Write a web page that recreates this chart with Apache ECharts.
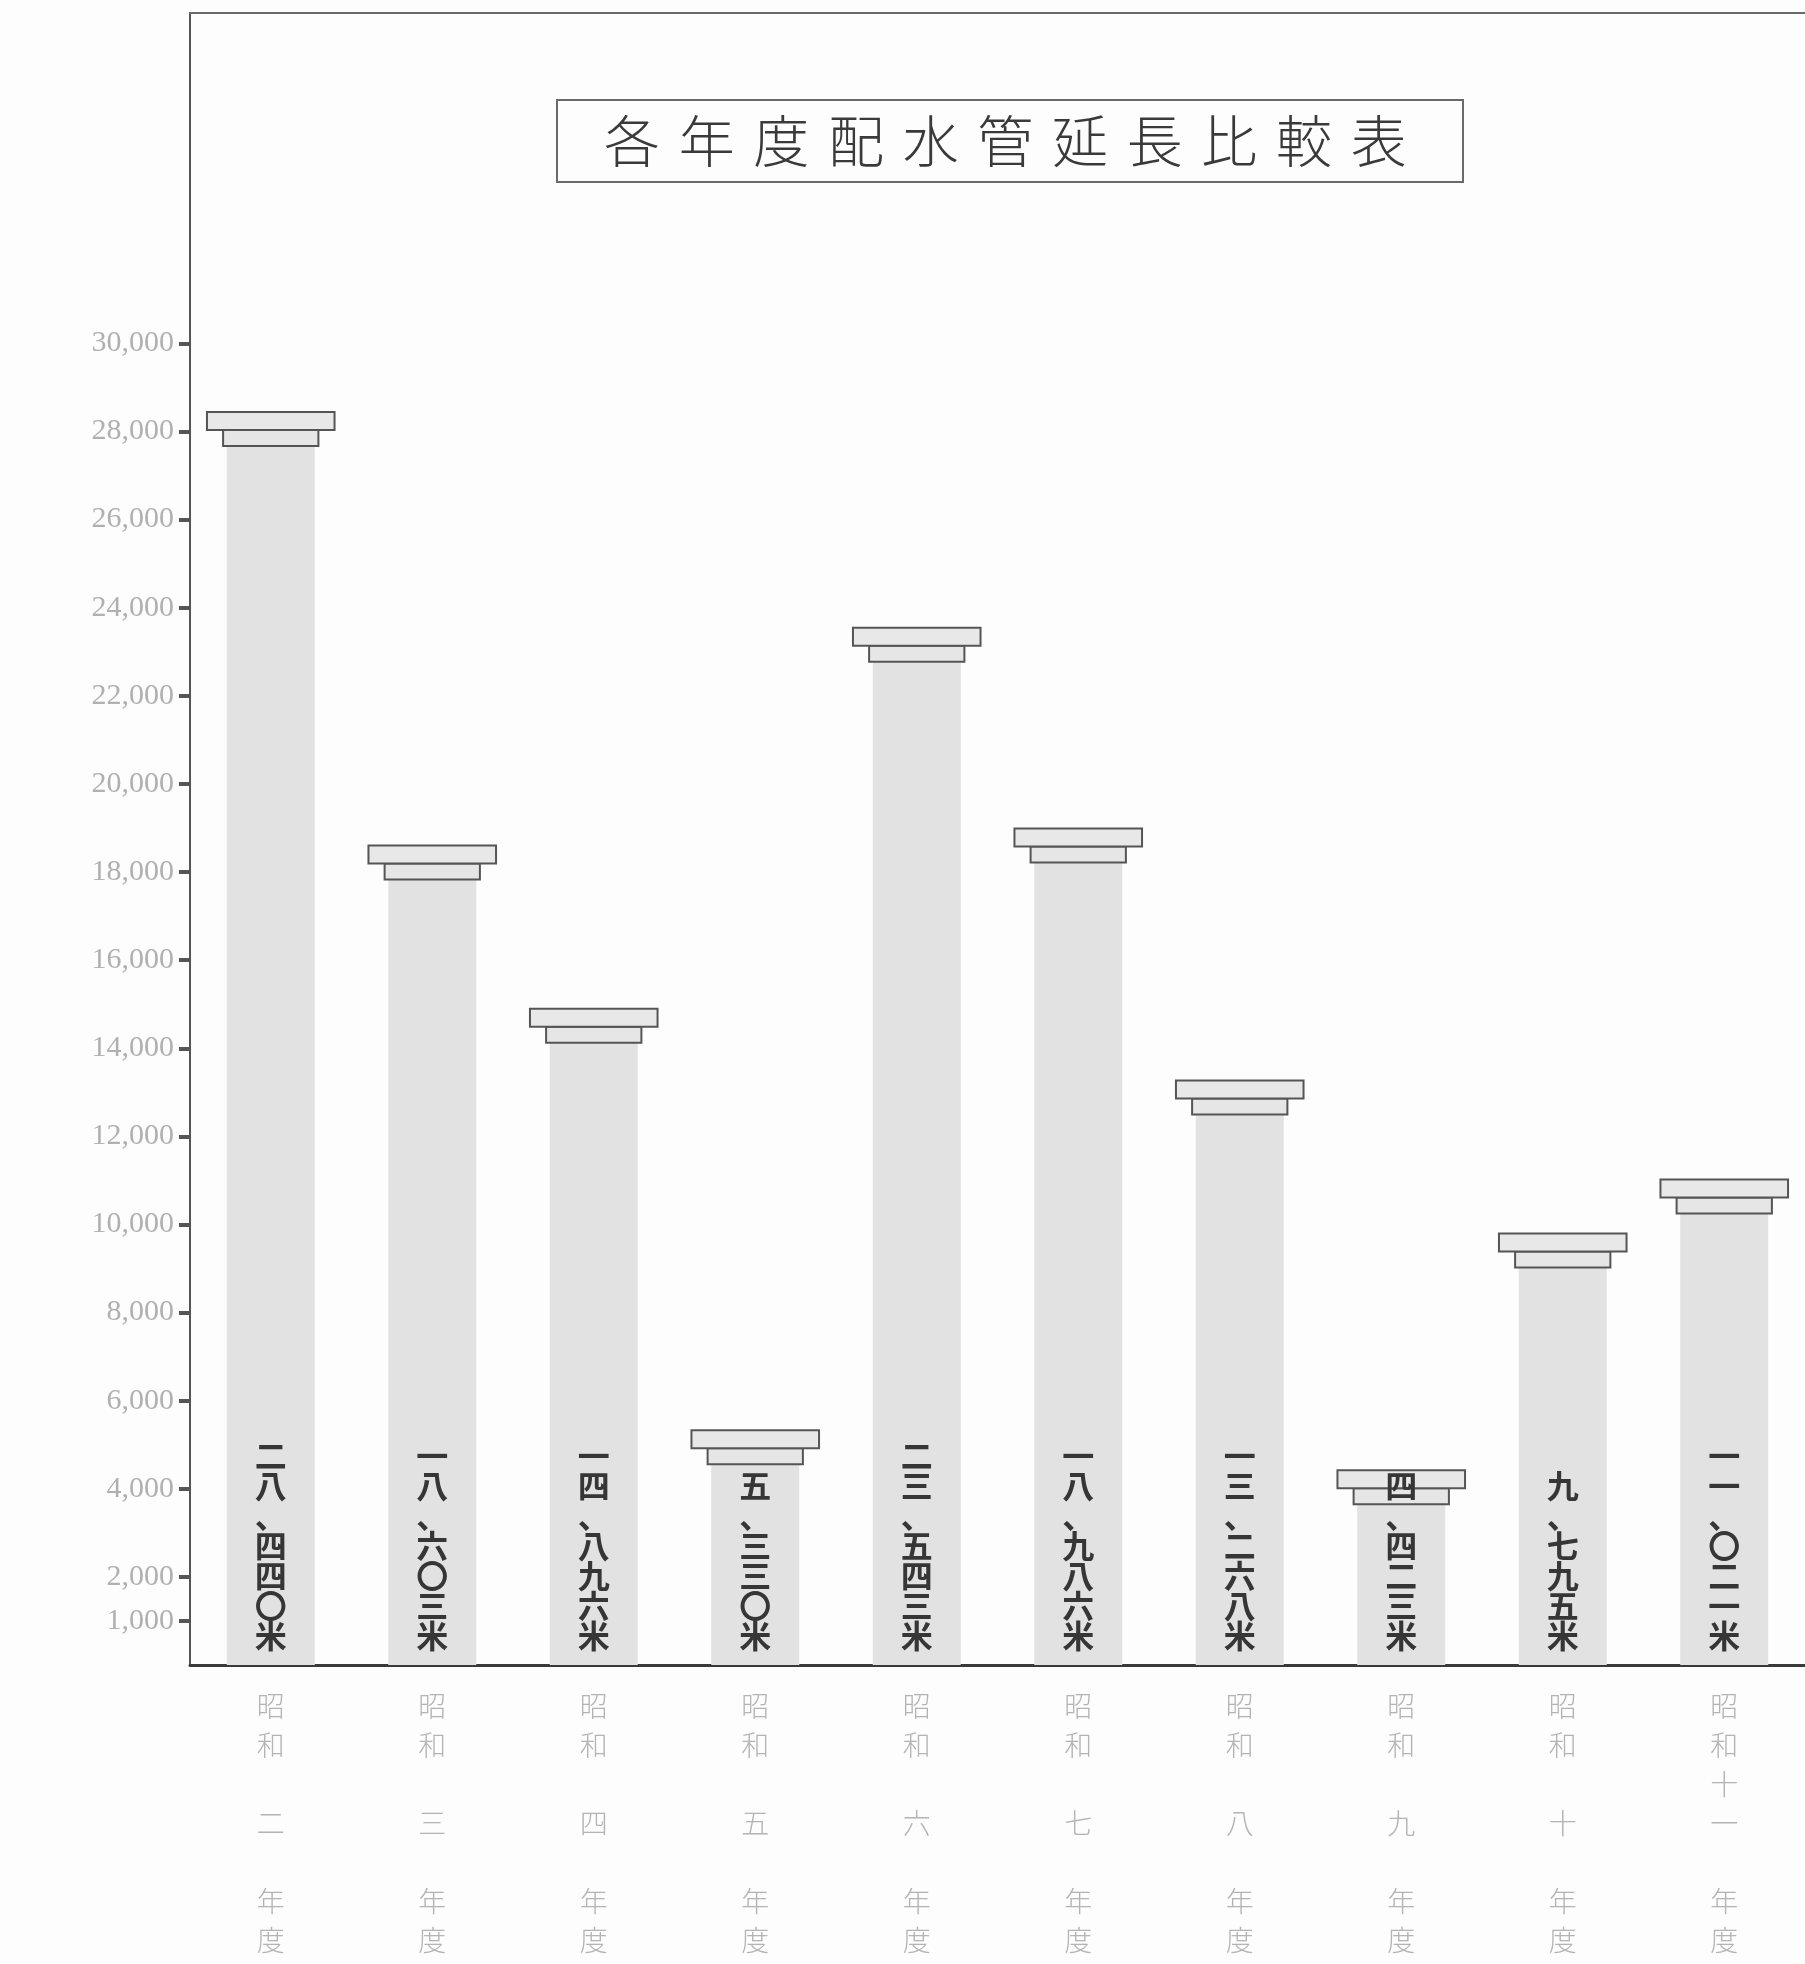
<!DOCTYPE html>
<html><head><meta charset="utf-8">
<script src="https://cdn.jsdelivr.net/npm/echarts@6/dist/echarts.min.js"></script>
<style>html,body{margin:0;padding:0;background:#fdfdfd}#c{width:1805px;height:1964px}</style>
</head><body><div id="c"></div>
<script>
const titleText = '各年度配水管延長比較表';
const categories = ['昭和二年度','昭和三年度','昭和四年度','昭和五年度','昭和六年度','昭和七年度','昭和八年度','昭和九年度','昭和十年度','昭和十一年度'];
const lengths = [28440, 18603, 14896, 5330, 23543, 18986, 13268, 4423, 9795, 11021];
const valueLabels = ['二八、四四〇米','一八、六〇三米','一四、八九六米','五、三三〇米','二三、五四三米','一八、九八六米','一三、二六八米','四、四二三米','九、七九五米','一一、〇二一米'];
const yTicks = [1000, 2000, 4000, 6000, 8000, 10000, 12000, 14000, 16000, 18000, 20000, 22000, 24000, 26000, 28000, 30000];

const chart = echarts.init(document.getElementById('c'), null, {renderer: 'canvas'});

function catLabel(v) {
  const num = v.slice(2, v.length - 2);
  const blank = '\u3000';
  const lines = ['昭', '和'];
  if (num.length === 2) { lines.push(num[0], num[1]); } else { lines.push(blank, num); }
  lines.push(blank, '年', '度');
  return lines.join('\n');
}

chart.setOption({
  backgroundColor: '#fdfdfd',
  animation: false,
  title: {
    text: titleText.split('').join('\u2004'),
    left: 557, top: 100,
    padding: [13, 57, 13, 47],
    borderColor: '#6a6a6a', borderWidth: 2,
    textStyle: {fontFamily: 'Noto Sans CJK JP', fontSize: 56, fontWeight: 300, color: '#3a3a3a'}
  },
  grid: {left: 190, right: -5, top: 13, bottom: 299, containLabel: false},
  xAxis: [{
    type: 'category', data: categories, position: 'bottom',
    axisLine: {lineStyle: {color: '#3a3a3a', width: 3}},
    axisTick: {show: false},
    axisLabel: {
      margin: 22, formatter: catLabel, fontSize: 28, lineHeight: 39,
      fontFamily: 'Noto Sans CJK JP', fontWeight: 300, color: '#b4b4b4', verticalAlign: 'top'
    }
  }, {
    type: 'category', data: categories, position: 'top',
    axisLine: {lineStyle: {color: '#6a6a6a', width: 2}},
    axisTick: {show: false}, axisLabel: {show: false}
  }],
  yAxis: {
    type: 'value', min: 0, max: 37500,
    splitLine: {show: false},
    axisLine: {show: true, lineStyle: {color: '#555', width: 2}},
    axisTick: {show: true, inside: false, length: 11, customValues: yTicks, lineStyle: {color: '#555', width: 4}},
    axisLabel: {
      customValues: yTicks, margin: 16,
      formatter: v => v.toLocaleString('en-US'),
      fontFamily: 'Liberation Serif', fontSize: 30, color: '#b0b0b0'
    }
  },
  series: [{
    type: 'custom',
    clip: false,
    data: lengths.map((v, i) => [i, v]),
    encode: {x: 0, y: 1},
    renderItem: function (params, api) {
      const i = api.value(0), v = api.value(1);
      const top = api.coord([i, v]);
      const base = api.coord([i, 0]);
      const band = api.size([1, 0])[0];
      const cx = top[0];
      const topW = band * 0.79, midW = band * 0.59, shaftW = band * 0.545;
      const topH = 18, midH = 16;
      const y0 = top[1];
      const shaftTop = y0 + topH + midH;
      return {
        type: 'group',
        children: [
          {type: 'rect', shape: {x: cx - shaftW / 2, y: shaftTop, width: shaftW, height: base[1] - shaftTop}, style: {fill: '#e2e2e2'}},
          {type: 'rect', shape: {x: cx - midW / 2, y: y0 + topH, width: midW, height: midH}, style: {fill: '#e6e6e6', stroke: '#555', lineWidth: 2}},
          {type: 'rect', shape: {x: cx - topW / 2, y: y0, width: topW, height: topH}, style: {fill: '#e8e8e8', stroke: '#555', lineWidth: 2}},
          {type: 'text', style: {
            text: valueLabels[i].split('').join('\n'),
            x: cx, y: base[1] - 14, align: 'center', verticalAlign: 'bottom',
            fontSize: 32, lineHeight: 30, fontFamily: 'Noto Sans CJK JP', fontWeight: 'bold', fill: '#363636'
          }}
        ]
      };
    }
  }]
});
</script>
</body></html>
